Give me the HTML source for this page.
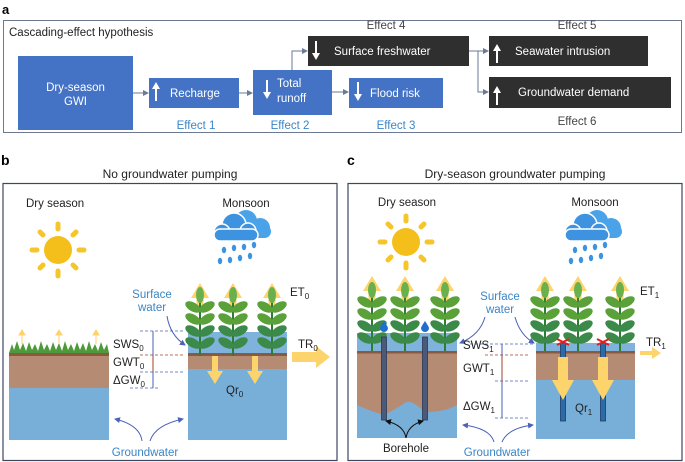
<!DOCTYPE html>
<html><head><meta charset="utf-8"><style>
html,body{margin:0;padding:0;background:#fff;}
svg{display:block;font-family:"Liberation Sans",Arial,sans-serif;}
</style></head><body>
<svg width="685" height="462" viewBox="0 0 685 462" xmlns="http://www.w3.org/2000/svg">
<defs>
<marker id="ah" markerWidth="6" markerHeight="6" refX="5" refY="3" orient="auto"><path d="M0,0 L6,3 L0,6 z" fill="#6a7a99"/></marker>
<marker id="ab" markerWidth="6" markerHeight="6" refX="5" refY="3" orient="auto"><path d="M0,0 L6,3 L0,6 z" fill="#4a62b8"/></marker>
<marker id="ak" markerWidth="6" markerHeight="6" refX="5" refY="3" orient="auto"><path d="M0,0 L6,3 L0,6 z" fill="#111"/></marker>
<g id="plant">
<line x1="0" y1="-4" x2="0" y2="60" stroke="#2e7d32" stroke-width="2"/>
<ellipse cx="0" cy="-1" rx="4" ry="8" fill="#6ab04c"/>
<g fill="#5aa13a">
<ellipse cx="-7" cy="11" rx="8.5" ry="4.5" transform="rotate(30 -7 11)"/>
<ellipse cx="7" cy="11" rx="8.5" ry="4.5" transform="rotate(-30 7 11)"/>
<ellipse cx="-7" cy="23" rx="8.5" ry="4.5" transform="rotate(30 -7 23)"/>
<ellipse cx="7" cy="23" rx="8.5" ry="4.5" transform="rotate(-30 7 23)"/>
</g>
<g fill="#3c8a4a">
<ellipse cx="-7" cy="35" rx="8.5" ry="4.5" transform="rotate(30 -7 35)"/>
<ellipse cx="7" cy="35" rx="8.5" ry="4.5" transform="rotate(-30 7 35)"/>
<ellipse cx="-7" cy="47" rx="8.5" ry="4.5" transform="rotate(30 -7 47)"/>
<ellipse cx="7" cy="47" rx="8.5" ry="4.5" transform="rotate(-30 7 47)"/>
</g>
</g>
<g id="uparrow"><path d="M-3.5,20 L-3.5,8 L-9,8 L0,-7 L9,8 L3.5,8 L3.5,20 z" fill="#fdd36b"/></g>
<g id="sun">
<circle cx="0" cy="0" r="14" fill="#f5bf1b"/>
<g stroke="#f5c52a" stroke-width="5" stroke-linecap="round">
<line x1="0" y1="-21" x2="0" y2="-26"/><line x1="0" y1="21" x2="0" y2="26"/>
<line x1="-21" y1="0" x2="-26" y2="0"/><line x1="21" y1="0" x2="26" y2="0"/>
<line x1="15" y1="15" x2="18" y2="18"/><line x1="-15" y1="15" x2="-18" y2="18"/>
<line x1="15" y1="-15" x2="18" y2="-18"/><line x1="-15" y1="-15" x2="-18" y2="-18"/>
</g></g>
<g id="cloud">
<g fill="#4aa3e8"><circle cx="34" cy="11" r="11"/><circle cx="48" cy="18" r="10"/><rect x="24" y="15" width="35" height="13" rx="6.5"/></g>
<g fill="#3d93e0" stroke="#fff" stroke-width="1.5"><circle cx="22" cy="15" r="12"/><circle cx="10" cy="22" r="8"/><circle cx="36" cy="21" r="8"/><rect x="2" y="19" width="44" height="12" rx="6"/></g>
<g fill="#3d93e0"><ellipse cx="12" cy="40" rx="2.2" ry="3.2"/><ellipse cx="22" cy="38" rx="2.2" ry="3.2"/><ellipse cx="32" cy="37" rx="2.2" ry="3.2"/><ellipse cx="42" cy="35" rx="2.2" ry="3.2"/><ellipse cx="8" cy="51" rx="2.2" ry="3.2"/><ellipse cx="18" cy="50" rx="2.2" ry="3.2"/><ellipse cx="28" cy="48" rx="2.2" ry="3.2"/><ellipse cx="38" cy="46" rx="2.2" ry="3.2"/></g>
</g>
</defs>

<!-- Panel a -->
<text x="2" y="14" font-size="13" font-weight="bold">a</text>
<rect x="3.5" y="20.5" width="678" height="112" fill="none" stroke="#6e7891" stroke-width="1"/>
<text x="9" y="36" font-size="11.5" fill="#222">Cascading-effect hypothesis</text>
<rect x="18" y="56" width="115" height="74" fill="#4472c4"/>
<text x="75.5" y="91" font-size="11.5" fill="#fff" text-anchor="middle">Dry-season</text>
<text x="75.5" y="105" font-size="11.5" fill="#fff" text-anchor="middle">GWI</text>
<rect x="149" y="78" width="90" height="30" fill="#4472c4"/>
<rect x="253" y="70" width="79" height="45" fill="#4472c4"/>
<rect x="349" y="78" width="94" height="30" fill="#4472c4"/>
<rect x="308" y="36" width="161" height="30" fill="#2f2f2f"/>
<rect x="489" y="36" width="159" height="30" fill="#2f2f2f"/>
<rect x="489" y="77" width="182" height="31" fill="#2f2f2f"/>
<g stroke="#fff" stroke-width="2" fill="#fff">
<line x1="156" y1="101" x2="156" y2="88"/><path d="M152,89 L156,82 L160,89 z" stroke="none"/>
<line x1="267" y1="80" x2="267" y2="93"/><path d="M263,92 L267,99 L271,92 z" stroke="none"/>
<line x1="358" y1="82" x2="358" y2="95"/><path d="M354,94 L358,101 L362,94 z" stroke="none"/>
<line x1="316" y1="41" x2="316" y2="54"/><path d="M312,53 L316,60 L320,53 z" stroke="none"/>
<line x1="497" y1="63" x2="497" y2="50"/><path d="M493,51 L497,44 L501,51 z" stroke="none"/>
<line x1="497" y1="105" x2="497" y2="92"/><path d="M493,93 L497,86 L501,93 z" stroke="none"/>
</g>
<g font-size="11.5" fill="#fff">
<text x="170" y="97">Recharge</text>
<text x="277" y="87">Total</text><text x="277" y="102">runoff</text>
<text x="370" y="97">Flood risk</text>
<text x="334" y="55">Surface freshwater</text>
<text x="515" y="55">Seawater intrusion</text>
<text x="518" y="96">Groundwater demand</text>
</g>
<g stroke="#6a7a99" stroke-width="1" fill="none">
<line x1="133" y1="93" x2="148" y2="93" marker-end="url(#ah)"/>
<line x1="239" y1="93" x2="252" y2="93" marker-end="url(#ah)"/>
<line x1="332" y1="92" x2="348" y2="92" marker-end="url(#ah)"/>
<polyline points="292,70 292,51 307,51" marker-end="url(#ah)"/>
<line x1="469" y1="51" x2="488" y2="51" marker-end="url(#ah)"/>
<polyline points="478,51 478,92 488,92" marker-end="url(#ah)"/>
</g>
<g font-size="11.5" text-anchor="middle">
<text x="386" y="29" fill="#444">Effect 4</text>
<text x="577" y="29" fill="#444">Effect 5</text>
<text x="577" y="125" fill="#444">Effect 6</text>
<text x="196" y="129" fill="#3a86c8">Effect 1</text>
<text x="290" y="129" fill="#3a86c8">Effect 2</text>
<text x="396" y="129" fill="#3a86c8">Effect 3</text>
</g>

<!-- Panel b -->
<text x="1" y="165" font-size="14" font-weight="bold">b</text>
<text x="170" y="178" font-size="12" text-anchor="middle" fill="#222">No groundwater pumping</text>
<rect x="3" y="183.5" width="334" height="277" fill="none" stroke="#3d4760" stroke-width="1.2"/>
<text x="26" y="207" font-size="11.5" fill="#222">Dry season</text>
<text x="246" y="207" font-size="11.5" fill="#222" text-anchor="middle">Monsoon</text>
<use href="#sun" x="58" y="250"/>
<use href="#cloud" x="212" y="210"/>
<!-- left block -->
<rect x="9" y="388" width="100" height="52" fill="#77afd9"/>
<rect x="9" y="354" width="100" height="34" fill="#b58b73"/>
<rect x="9" y="353" width="100" height="3" fill="#8a5a40"/>
<path d="M9,353 L12,344 L14,350 L17,341 L20,350 L23,343 L26,351 L29,342 L32,350 L35,344 L38,351 L41,341 L44,350 L47,344 L50,351 L53,342 L56,350 L59,343 L62,351 L65,341 L68,350 L71,344 L74,351 L77,342 L80,350 L83,343 L86,351 L89,341 L92,350 L95,344 L98,351 L101,342 L104,350 L107,344 L109,353 z" fill="#4e9a3a"/>
<g fill="#fdd36b" stroke="#fdd36b" stroke-width="1"><line x1="22" y1="344" x2="22" y2="334"/><path d="M19,335 L22,330 L25,335z"/><line x1="59" y1="344" x2="59" y2="334"/><path d="M56,335 L59,330 L62,335z"/><line x1="96" y1="344" x2="96" y2="334"/><path d="M93,335 L96,330 L99,335z"/></g>
<!-- right block -->
<rect x="188" y="369" width="99" height="71" fill="#77afd9"/>
<rect x="188" y="354" width="99" height="15" fill="#b58b73"/>
<rect x="188" y="332" width="99" height="22" fill="#7fb3dc"/>
<rect x="188" y="353" width="99" height="3" fill="#8a5a40"/>
<use href="#uparrow" x="200" y="290"/><use href="#uparrow" x="233" y="290"/><use href="#uparrow" x="272" y="290"/>
<use href="#plant" x="200" y="296"/><use href="#plant" x="233" y="296"/><use href="#plant" x="272" y="296"/>
<path d="M212,356 L212,371 L207,371 L215,384 L223,371 L218,371 L218,356z" fill="#fdd36b"/>
<path d="M252,356 L252,371 L247,371 L255,384 L263,371 L258,371 L258,356z" fill="#fdd36b"/>
<path d="M292,352 L316,352 L316,346 L330,357 L316,368 L316,362 L292,362z" fill="#fdd36b"/>
<text x="226" y="394" font-size="11.5" fill="#222">Qr<tspan font-size="8" dy="3">0</tspan></text>
<text x="290" y="296" font-size="11.5" fill="#222">ET<tspan font-size="8" dy="3">0</tspan></text>
<text x="298" y="348" font-size="11.5" fill="#222">TR<tspan font-size="8" dy="3">0</tspan></text>
<text x="152" y="298" font-size="11.5" fill="#3a86c8" text-anchor="middle">Surface</text>
<text x="152" y="311" font-size="11.5" fill="#3a86c8" text-anchor="middle">water</text>
<path d="M167,316 Q170,335 185,345" fill="none" stroke="#4a62b8" marker-end="url(#ab)"/>
<g stroke-dasharray="3,2" stroke-width="0.8">
<line x1="140" y1="331" x2="185" y2="331" stroke="#4a62b8"/>
<line x1="140" y1="355" x2="185" y2="355" stroke="#a0402a"/>
<line x1="140" y1="372" x2="185" y2="372" stroke="#4a62b8"/>
<line x1="130" y1="388" x2="160" y2="388" stroke="#4a62b8"/>
</g>
<line x1="153" y1="331" x2="153" y2="355" stroke="#4a62b8"/>
<line x1="153" y1="355" x2="153" y2="372" stroke="#a0402a"/>
<line x1="153" y1="372" x2="153" y2="388" stroke="#4a62b8"/>
<g font-size="11.5" fill="#222">
<text x="113" y="348">SWS<tspan font-size="8" dy="3">0</tspan></text>
<text x="113" y="366">GWT<tspan font-size="8" dy="3">0</tspan></text>
<text x="113" y="384">ΔGW<tspan font-size="8" dy="3">0</tspan></text>
</g>
<text x="145" y="456" font-size="11.5" fill="#3a86c8" text-anchor="middle">Groundwater</text>
<path d="M142,441 Q140,425 115,419" fill="none" stroke="#4a62b8" marker-end="url(#ab)"/>
<path d="M150,441 Q155,425 183,419" fill="none" stroke="#4a62b8" marker-end="url(#ab)"/>

<!-- Panel c -->
<text x="347" y="165" font-size="14" font-weight="bold">c</text>
<text x="515" y="178" font-size="12" text-anchor="middle" fill="#222">Dry-season groundwater pumping</text>
<rect x="348" y="183.5" width="334" height="277" fill="none" stroke="#3d4760" stroke-width="1.2"/>
<text x="407" y="206" font-size="11.5" fill="#222" text-anchor="middle">Dry season</text>
<text x="595" y="206" font-size="11.5" fill="#222" text-anchor="middle">Monsoon</text>
<use href="#sun" x="406" y="242"/>
<use href="#cloud" x="563" y="210"/>
<!-- left block c -->
<rect x="357" y="333" width="100" height="105" fill="#77afd9"/>
<path d="M357,352 L457,352 L457,405 Q445,412 425,412 Q412,400 406,402 Q398,408 384,415 Q372,412 357,405z" fill="#b58b73"/>
<rect x="357" y="333" width="100" height="19" fill="#7fb3dc"/>
<rect x="357" y="351" width="100" height="2.5" fill="#8a5a40"/>
<use href="#uparrow" x="372" y="283"/><use href="#uparrow" x="405" y="283"/><use href="#uparrow" x="445" y="283"/>
<use href="#plant" x="372" y="291"/><use href="#plant" x="405" y="291"/><use href="#plant" x="445" y="291"/>
<rect x="381.5" y="337" width="5" height="83" fill="#4b5a78" stroke="#2c3a55" stroke-width="0.8"/>
<rect x="422.5" y="337" width="5" height="83" fill="#4b5a78" stroke="#2c3a55" stroke-width="0.8"/>
<path d="M384,321 Q380,327 380,328 A4,4 0 0 0 388,328 Q388,327 384,321z" fill="#1f6fd1"/>
<path d="M425,321 Q421,327 421,328 A4,4 0 0 0 429,328 Q429,327 425,321z" fill="#1f6fd1"/>
<path d="M406,438 Q404,425 386,421" fill="none" stroke="#111" marker-end="url(#ak)"/>
<path d="M406,438 Q408,425 423,421" fill="none" stroke="#111" marker-end="url(#ak)"/>
<text x="406" y="452" font-size="11.5" fill="#222" text-anchor="middle">Borehole</text>
<!-- right block c -->
<rect x="536" y="380" width="99" height="59" fill="#77afd9"/>
<rect x="536" y="352" width="99" height="28" fill="#b58b73"/>
<rect x="536" y="343" width="99" height="9" fill="#7fb3dc"/>
<rect x="536" y="351" width="99" height="2.5" fill="#8a5a40"/>
<use href="#uparrow" x="545" y="283"/><use href="#uparrow" x="578" y="283"/><use href="#uparrow" x="620" y="283"/>
<use href="#plant" x="545" y="291"/><use href="#plant" x="578" y="291"/><use href="#plant" x="620" y="291"/>
<rect x="560.5" y="343" width="5" height="78" fill="#2c6aa8" stroke="#1d3d66" stroke-width="0.8"/>
<rect x="600.5" y="343" width="5" height="78" fill="#2c6aa8" stroke="#1d3d66" stroke-width="0.8"/>
<path d="M558,357 L558,380 L552,380 L563,400 L574,380 L568,380 L568,357z" fill="#fdd36b"/>
<path d="M598,357 L598,380 L592,380 L603,400 L614,380 L608,380 L608,357z" fill="#fdd36b"/>
<g stroke="#e02020" stroke-width="2"><line x1="557" y1="339" x2="569" y2="345"/><line x1="557" y1="345" x2="569" y2="339"/><line x1="597" y1="339" x2="609" y2="345"/><line x1="597" y1="345" x2="609" y2="339"/></g>
<path d="M640,351 L652,351 L652,347 L661,353 L652,359 L652,355 L640,355z" fill="#fdd36b"/>
<text x="575" y="412" font-size="11.5" fill="#222">Qr<tspan font-size="8" dy="3">1</tspan></text>
<text x="640" y="295" font-size="11.5" fill="#222">ET<tspan font-size="8" dy="3">1</tspan></text>
<text x="646" y="346" font-size="11.5" fill="#222">TR<tspan font-size="8" dy="3">1</tspan></text>
<text x="500" y="300" font-size="11.5" fill="#3a86c8" text-anchor="middle">Surface</text>
<text x="500" y="313" font-size="11.5" fill="#3a86c8" text-anchor="middle">water</text>
<path d="M485,317 Q480,335 460,343" fill="none" stroke="#4a62b8" marker-end="url(#ab)"/>
<path d="M515,317 Q520,335 534,343" fill="none" stroke="#4a62b8" marker-end="url(#ab)"/>
<g stroke-dasharray="3,2" stroke-width="0.8">
<line x1="470" y1="344" x2="533" y2="344" stroke="#4a62b8"/>
<line x1="485" y1="355" x2="530" y2="355" stroke="#a0402a"/>
<line x1="495" y1="381" x2="530" y2="381" stroke="#4a62b8"/>
<line x1="495" y1="418" x2="530" y2="418" stroke="#4a62b8"/>
</g>
<line x1="502" y1="344" x2="502" y2="355" stroke="#4a62b8"/>
<line x1="502" y1="355" x2="502" y2="381" stroke="#a0402a"/>
<line x1="502" y1="381" x2="502" y2="418" stroke="#4a62b8"/>
<g font-size="11.5" fill="#222">
<text x="463" y="349">SWS<tspan font-size="8" dy="3">1</tspan></text>
<text x="463" y="372">GWT<tspan font-size="8" dy="3">1</tspan></text>
<text x="463" y="410">ΔGW<tspan font-size="8" dy="3">1</tspan></text>
</g>
<text x="497" y="456" font-size="11.5" fill="#3a86c8" text-anchor="middle">Groundwater</text>
<path d="M494,442 Q490,428 463,425" fill="none" stroke="#4a62b8" marker-end="url(#ab)"/>
<path d="M502,442 Q508,428 533,425" fill="none" stroke="#4a62b8" marker-end="url(#ab)"/>
</svg>
</body></html>
